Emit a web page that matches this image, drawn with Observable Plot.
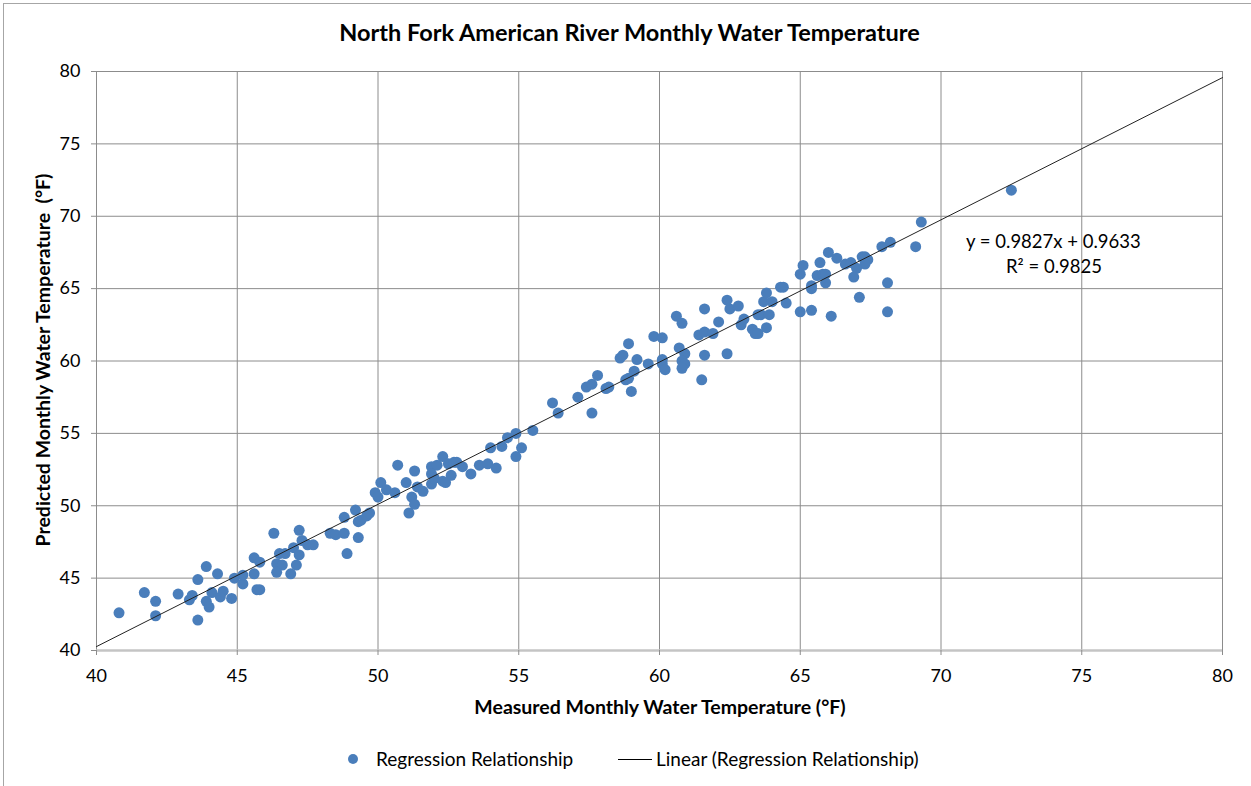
<!DOCTYPE html>
<html>
<head>
<meta charset="utf-8">
<script src="https://cdn.jsdelivr.net/npm/d3@7"></script>
<script src="https://cdn.jsdelivr.net/npm/@observablehq/plot@0.6"></script>
<style>
  html, body { margin: 0; padding: 0; background: #fff; }
  #wrap { position: relative; width: 1251px; height: 786px; overflow: hidden; font-family: Lato, "Open Sans", sans-serif; color: #000; }
  #border { position: absolute; left: 3px; top: 3px; width: 1260px; height: 800px; border: 1px solid #a6a6a6; box-sizing: border-box; }
  .lbl { position: absolute; white-space: nowrap; }
  #title { left: 0; width: 1259px; top: 18px; text-align: center; font-weight: bold; font-size: 23.5px; }
  #xlabel { left: 0; width: 1320px; top: 695px; text-align: center; font-weight: bold; font-size: 19.5px; }
  #ylabel { left: 42px; top: 360px; font-weight: bold; font-size: 19.5px; transform: translate(-50%, -50%) rotate(-90deg); }
  #eq1 { left: 966px; top: 230px; font-size: 18.5px; }
  #eq2 { left: 1006px; top: 255px; font-size: 18.5px; }
  #legend { left: 0; top: 747px; width: 1251px; font-size: 19px; }
  svg { position: absolute; left: 0; top: 0; }
</style>
</head>
<body>
<div id="wrap">
  <div id="border"></div>
  <div id="chart"></div>
  <div class="lbl" id="title">North Fork American River Monthly Water Temperature</div>
  <div class="lbl" id="xlabel">Measured Monthly Water Temperature (°F)</div>
  <div class="lbl" id="ylabel">Predicted Monthly Water Temperature&nbsp; (°F)</div>
  <div class="lbl" id="eq1">y = 0.9827x + 0.9633</div>
  <div class="lbl" id="eq2">R² = 0.9825</div>
  <div class="lbl" id="legend">
    <span style="position:absolute;left:348px;top:7px;width:10px;height:10px;border-radius:50%;background:#4a7ebb;"></span>
    <span style="position:absolute;left:376px;top:0;">Regression Relationship</span>
    <span style="position:absolute;left:618px;top:12px;width:34px;height:0;border-top:1px solid #000;"></span>
    <span style="position:absolute;left:656px;top:0;">Linear (Regression Relationship)</span>
  </div>
</div>
<script>
const measured = [
  40.8,41.7,42.1,42.1,42.9,43.3,43.4,43.6,43.6,43.9,43.9,44.0,44.1,44.3,44.4,44.5,44.8,44.9,45.2,45.2,
  45.6,45.6,45.8,45.7,45.8,46.3,46.5,46.7,46.4,46.6,46.4,46.9,47.0,47.2,47.3,47.2,47.1,47.5,47.7,48.3,
  48.5,48.8,48.9,48.8,49.2,49.3,49.3,49.4,49.6,49.7,49.9,50.0,50.1,50.3,50.7,50.6,51.0,51.1,51.2,51.3,
  51.3,51.4,51.6,51.9,52.1,51.9,51.9,52.0,52.3,52.3,52.4,52.5,52.7,52.8,53.0,52.6,53.3,53.6,53.9,54.2,
  54.0,54.4,54.6,54.9,54.9,55.1,55.5,56.2,56.4,57.1,57.6,57.4,57.6,57.8,58.1,58.2,58.6,58.7,58.9,58.8,
  58.9,59.1,59.0,59.2,59.6,59.8,60.1,60.1,60.1,60.2,60.6,60.8,60.7,60.9,60.8,60.9,60.8,61.5,61.6,61.6,
  61.4,61.6,61.9,62.1,62.4,62.5,62.8,62.4,62.9,63.0,63.3,63.4,63.5,63.8,63.6,63.9,63.7,64.5,63.8,64.0,
  64.3,64.4,65.0,65.4,65.4,65.4,65.9,66.1,67.1,68.1,68.1,69.3,69.1,67.9,68.2,66.0,66.3,67.2,67.3,67.4,
  67.3,67.0,66.9,66.6,66.8,65.7,65.1,65.0,65.6,65.8,65.9,63.5,72.5
];
const predicted = [
  42.6,44.0,43.4,42.4,43.9,43.5,43.8,44.9,42.1,45.8,43.4,43.0,44.0,45.3,43.7,44.1,43.6,45.0,44.6,45.2,
  46.4,45.3,46.1,44.2,44.2,48.1,46.7,46.7,46.0,45.9,45.4,45.3,47.1,48.3,47.6,46.6,45.9,47.3,47.3,48.1,
  48.0,48.1,46.7,49.2,49.7,47.8,48.9,49.0,49.3,49.5,50.9,50.6,51.6,51.1,52.8,50.9,51.6,49.5,50.6,50.1,
  52.4,51.3,51.0,52.7,52.8,51.5,52.2,51.9,53.4,51.7,51.6,52.9,53.0,53.0,52.7,52.1,52.2,52.8,52.9,52.6,
  54.0,54.1,54.7,55.0,53.4,54.0,55.2,57.1,56.4,57.5,56.4,58.2,58.4,59.0,58.1,58.2,60.2,60.4,61.2,58.7,
  58.8,59.3,57.9,60.1,59.8,61.7,61.6,60.1,59.8,59.4,63.1,62.6,60.9,60.5,60.0,59.8,59.5,58.7,60.4,63.6,
  61.8,62.0,61.9,62.7,60.5,63.6,63.8,64.2,62.5,62.9,62.2,61.9,61.9,62.3,63.2,63.2,64.1,64.0,64.7,64.1,
  65.1,65.1,63.4,63.5,65.2,65.0,65.4,63.1,64.4,63.4,65.4,69.6,67.9,67.9,68.2,67.5,67.1,67.2,67.2,67.0,
  66.7,66.4,65.8,66.7,66.8,66.8,66.6,66.0,65.9,66.0,66.0,63.2,71.8
];
const xTicks = [40,45,50,55,60,65,70,75,80];
const yTicks = [40,45,50,55,60,65,70,75,80];
const slope = 0.9827, intercept = 0.9633;
const trendX = [40, 80];

const points = measured.map((m, i) => ({x: m, y: predicted[i]}));
const trend = trendX.map(x => ({x, y: slope * x + intercept}));

const chart = Plot.plot({
  width: 1251,
  height: 786,
  marginLeft: 96,
  marginRight: 29,
  marginTop: 71,
  marginBottom: 136,
  style: {fontFamily: "Lato, 'Open Sans', sans-serif", fontSize: "18px", color: "#000", background: "transparent"},
  x: {domain: [40, 80], ticks: xTicks, label: null},
  y: {domain: [40, 80], ticks: yTicks, label: null},
  marks: [
    Plot.ruleX(xTicks, {y1: 40, y2: 80, stroke: "#8c8c8c", strokeWidth: 1}),
    Plot.ruleY(yTicks.filter(d => d > 40), {x1: 40, x2: 80, stroke: "#8c8c8c", strokeWidth: 1}),
    Plot.ruleY([40], {x1: 40, x2: 80, stroke: "#c4c4c4", strokeWidth: 2.5}),
    Plot.axisX({ticks: xTicks, tickSize: 5, tickPadding: 14, stroke: "#8c8c8c", fontSize: 18, label: null}),
    Plot.axisY({ticks: yTicks, tickSize: 5, tickPadding: 11, stroke: "#8c8c8c", fontSize: 18, label: null}),
    Plot.dot(points, {x: "x", y: "y", r: 5.5, fill: "#4a7ebb", stroke: "none"}),
    Plot.line(trend, {x: "x", y: "y", stroke: "#222", strokeWidth: 1})
  ]
});
document.getElementById("chart").appendChild(chart);
</script>
</body>
</html>
